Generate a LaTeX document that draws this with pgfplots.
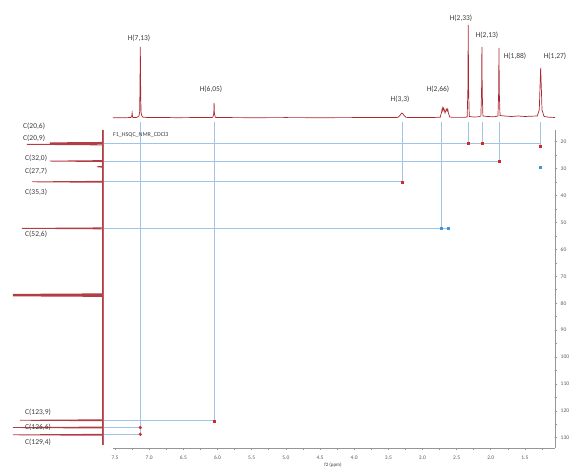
\documentclass[border=0pt]{standalone}
\usepackage{fontspec}
\setmainfont{Carlito}
\usepackage{pgfplots}
\pgfplotsset{compat=1.18}
\definecolor{specred}{RGB}{170,40,48}
\definecolor{guide}{RGB}{160,196,230}
\definecolor{xred}{RGB}{215,40,40}
\definecolor{xblue}{RGB}{60,150,215}
\definecolor{axgray}{RGB}{150,150,150}
\definecolor{txt}{RGB}{60,60,60}
\definecolor{ticktxt}{RGB}{85,90,100}
\newcommand{\lab}{\fontsize{7.5}{8}\selectfont}
\begin{document}
\begin{tikzpicture}
\path[use as bounding box] (0pt,0pt) rectangle (581pt,468pt);
% ---------- main 2D axis
\begin{axis}[
  at={(113pt,20pt)}, anchor=south west, scale only axis,
  width=442pt, height=318pt,
  x dir=reverse, y dir=reverse,
  xmin=1.06, xmax=7.53, ymin=15.65, ymax=133.8,
  axis x line*=bottom, axis y line*=right,
  axis line style={axgray, line width=0.9pt},
  xtick={1.5,2.0,2.5,3.0,3.5,4.0,4.5,5.0,5.5,6.0,6.5,7.0,7.5},
  minor xtick={1.25,1.75,2.25,2.75,3.25,3.75,4.25,4.75,5.25,5.75,6.25,6.75,7.25},
  ytick={20,30,40,50,60,70,80,90,100,110,120,130},
  minor ytick={25,35,45,55,65,75,85,95,105,115,125},
  tick align=outside,
  major tick length=2.2pt, minor tick length=1.6pt,
  tick style={axgray, line width=0.6pt},
  xticklabel style={yshift=-2pt, /pgf/number format/.cd, fixed, fixed zerofill, precision=1},
  ticklabel style={font=\fontsize{5.5}{6.5}\selectfont, text=ticktxt},
  /pgf/number format/assume math mode=true,
  clip=false,
]
% guide lines vertical
\addplot[guide, line width=0.7pt] coordinates {(7.13,12.7) (7.13,128.7)};
\addplot[guide, line width=0.7pt] coordinates {(6.05,12.7) (6.05,123.7)};
\addplot[guide, line width=0.7pt] coordinates {(3.30,12.7) (3.30,34.9)};
\addplot[guide, line width=0.7pt] coordinates {(2.72,12.7) (2.72,52.2)};
\addplot[guide, line width=0.7pt] coordinates {(2.33,12.7) (2.33,20.6)};
\addplot[guide, line width=0.7pt] coordinates {(2.13,12.7) (2.13,20.6)};
\addplot[guide, line width=0.7pt] coordinates {(1.88,12.7) (1.88,27.3)};
\addplot[guide, line width=0.7pt] coordinates {(1.27,12.7) (1.27,21.4)};
% guide lines horizontal
\addplot[guide, line width=0.7pt] coordinates {(7.68,20.6) (1.27,20.6)};
\addplot[guide, line width=0.7pt] coordinates {(7.68,27.2) (1.88,27.2)};
\addplot[guide, line width=0.7pt] coordinates {(7.68,34.9) (3.30,34.9)};
\addplot[guide, line width=0.7pt] coordinates {(7.68,52.2) (2.62,52.2)};
\addplot[guide, line width=0.7pt] coordinates {(7.68,123.7) (6.05,123.7)};
\addplot[guide, line width=0.7pt] coordinates {(7.68,126.2) (7.13,126.2)};
\addplot[guide, line width=0.7pt] coordinates {(7.68,128.7) (7.13,128.7)};
% cross peaks
\addplot[only marks, mark=square*, mark size=1.0pt, xred] coordinates {
 (2.33,20.6) (2.13,20.6) (1.27,21.5) (1.88,27.4) (3.30,34.9) (6.05,123.7)};
\addplot[only marks, mark=*, mark size=1.4pt, xred] coordinates {
 (7.13,126.2) (7.13,128.7)};
\addplot[only marks, mark=square*, mark size=1.0pt, xblue] coordinates {
 (1.27,29.3) (2.72,52.2) (2.62,52.2)};
\end{axis}
% ---------- top 1H spectrum
\begin{axis}[
  at={(113pt,350pt)}, anchor=south west, scale only axis,
  width=442pt, height=100pt,
  x dir=reverse, xmin=1.06, xmax=7.53, ymin=0, ymax=100,
  hide axis, clip=false,
]
\addplot[specred, line width=0.7pt] coordinates {
(7.53,0.3) (7.40,0.2) (7.30,0.4) (7.27,0.5) (7.255,2) (7.25,5) (7.245,2) (7.24,0.5)
(7.18,0.6) (7.15,2) (7.14,6) (7.135,30) (7.13,71) (7.125,30) (7.12,6) (7.11,2.5) (7.09,0.8)
(7.0,0.4) (6.8,0.5) (6.6,0.3) (6.4,0.4) (6.2,0.5) (6.07,0.6) (6.055,4) (6.05,15) (6.045,4) (6.03,0.6)
(5.8,0.4) (5.5,0.3) (5.0,0.4) (4.5,0.3) (4.0,0.4) (3.6,0.4) (3.36,0.6) (3.33,2.5) (3.31,4.5)
(3.30,5) (3.29,4.5) (3.27,2.5) (3.24,0.6) (3.0,0.5) (2.8,0.6) (2.74,0.8) (2.72,6) (2.71,10)
(2.70,7) (2.69,10) (2.68,8) (2.67,5) (2.65,9) (2.64,7) (2.63,9) (2.62,5) (2.60,1) (2.55,0.6)
(2.40,0.6) (2.345,1) (2.335,30) (2.33,93) (2.325,30) (2.315,1.5) (2.25,1) (2.18,1.2)
(2.145,2) (2.135,25) (2.13,71) (2.125,25) (2.115,2) (2.05,1.5) (1.95,1.2) (1.895,2)
(1.885,25) (1.88,70) (1.875,25) (1.865,2.5) (1.8,2) (1.7,1.5) (1.6,2) (1.5,1.5) (1.4,1.8)
(1.32,2) (1.29,8) (1.28,30) (1.27,50) (1.26,30) (1.25,8) (1.22,1.5) (1.15,0.8) (1.06,0.5)};
\end{axis}
% ---------- left 13C spectrum
\begin{axis}[
  at={(0pt,20pt)}, anchor=south west, scale only axis,
  width=103pt, height=318pt,
  x dir=reverse, y dir=reverse,
  xmin=0, xmax=103, ymin=15.65, ymax=133.8,
  hide axis, clip=false,
]
\addplot[specred!75, line width=2.6pt] coordinates {(0,15.65) (0,132.5)};
\addplot[specred!90, line width=0.8pt] coordinates {
(0.5,15.65) (0.5,20.25) (53,20.4) (0.5,20.5) (53,20.6) (0.5,20.75) (76,21.0) (0.5,21.2)
(0.5,27.0) (53,27.2) (0.5,27.4) (0.5,29.1) (6,29.3) (0.5,29.5)
(0.5,34.7) (71,34.9) (0.5,35.1) (0.5,52.0) (81,52.2) (0.5,52.4)
(0.5,76.5) (90,76.7) (0.5,76.85) (90,77.0) (0.5,77.15) (90,77.3) (0.5,77.5)
(0.5,123.3) (83,123.5) (0.5,123.7) (0.5,126.0) (90,126.2) (0.5,126.4)
(0.5,128.7) (90,128.9) (0.5,129.1) (0.5,132.5)};
\end{axis}
% ---------- labels
\begin{scope}[every node/.style={font=\lab, text=txt, inner sep=0pt}]
\node at (139pt,430pt) {H(7,13)};
\node at (211pt,379pt) {H(6,05)};
\node at (400pt,369pt) {H(3,3)};
\node at (438pt,379pt) {H(2,66)};
\node at (461pt,450pt) {H(2,33)};
\node at (487pt,433pt) {H(2,13)};
\node at (515pt,412pt) {H(1,88)};
\node at (555pt,412pt) {H(1,27)};
\node[anchor=west] at (23pt,342pt) {C(20,6)};
\node[anchor=west] at (23pt,330pt) {C(20,9)};
\node[anchor=west] at (25pt,310pt) {C(32,0)};
\node[anchor=west] at (25pt,297pt) {C(27,7)};
\node[anchor=west] at (25pt,276pt) {C(35,3)};
\node[anchor=west] at (25pt,234pt) {C(52,6)};
\node[anchor=west] at (25pt,56pt) {C(123,9)};
\node[anchor=west] at (25pt,41pt) {C(126,6)};
\node[anchor=west] at (25pt,26pt) {C(129,4)};
\node[anchor=west, font=\fontsize{6}{7}\selectfont] at (113pt,333pt) {F1\_HSQC\_NMR\_CDCl3};
\node[font=\fontsize{5}{6}\selectfont] at (333pt,3pt) {f2 (ppm)};
\end{scope}
\end{tikzpicture}
\end{document}
